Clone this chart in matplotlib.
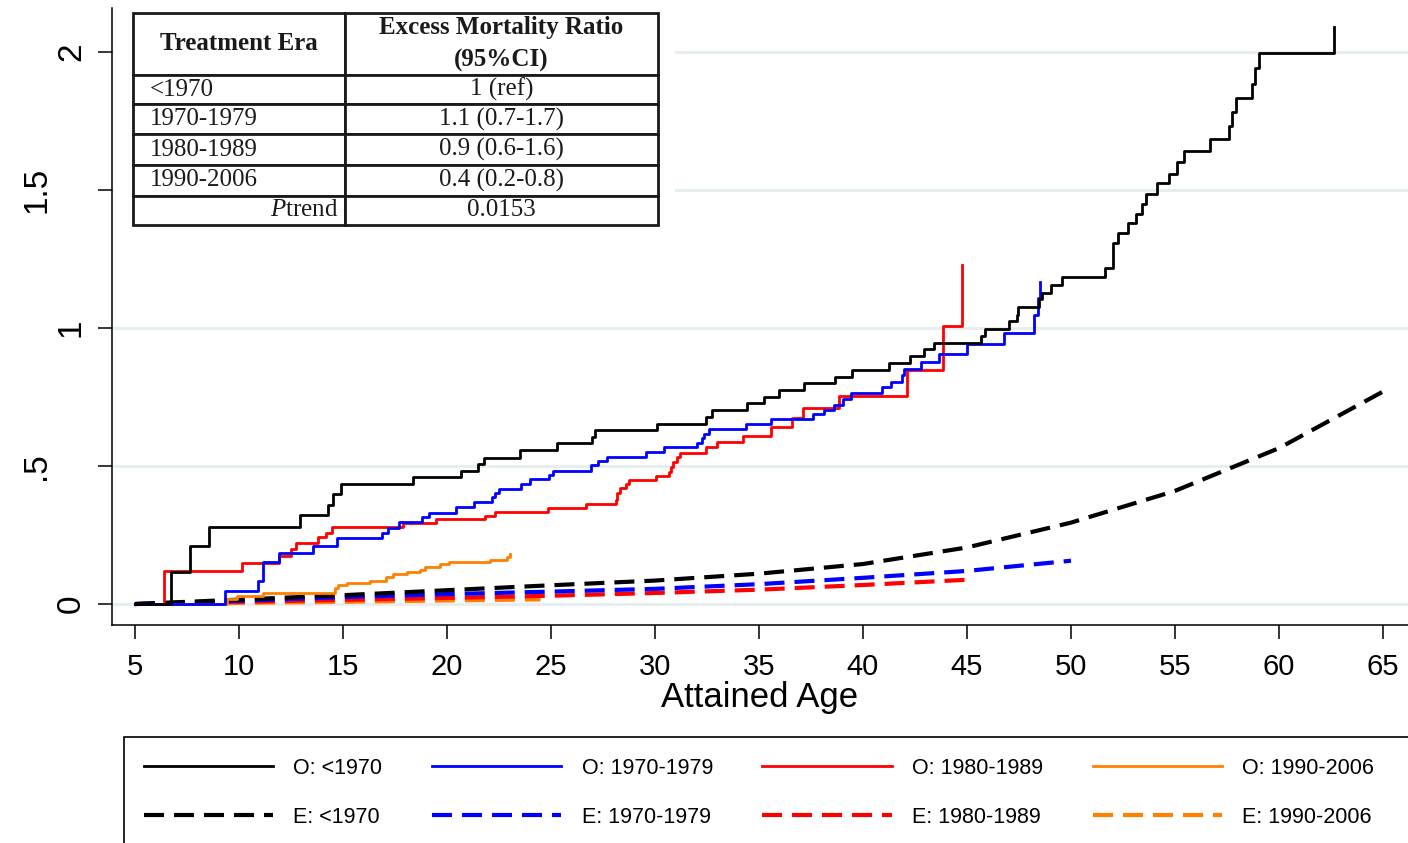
import matplotlib
matplotlib.use("Agg")
import matplotlib.pyplot as plt
from matplotlib.lines import Line2D
from matplotlib.patches import Rectangle

plt.rcParams['font.family'] = ['Liberation Sans', 'DejaVu Sans']
plt.rcParams['mathtext.fontset'] = 'custom'
plt.rcParams['mathtext.it'] = 'Liberation Serif:italic'
plt.rcParams['mathtext.rm'] = 'Liberation Serif'

# ---------------- data ----------------
# Observed cumulative excess mortality (step functions): event ages and values
obs_pre1970_age = [5.0, 6.76, 7.64, 8.57, 12.93, 14.3, 14.5, 14.9, 18.35, 20.66, 21.5, 21.78,
                   23.5, 25.3, 26.96, 27.1, 30.1, 32.45, 32.72, 34.44, 35.25, 35.98, 37.18,
                   38.65, 39.49, 41.26, 42.26, 42.93, 43.43, 45.67, 45.87, 47.03, 47.42, 47.47,
                   48.48, 48.59, 49.02, 49.55, 51.63, 52.0, 52.28, 52.76, 53.11, 53.43, 53.61,
                   54.15, 54.73, 55.11, 55.43, 56.68, 57.6, 57.72, 57.93, 58.72, 58.85, 59.05,
                   62.64]
obs_pre1970_val = [0.0, 0.117, 0.21, 0.28, 0.322, 0.359, 0.397, 0.434, 0.459, 0.483, 0.507, 0.530,
                   0.557, 0.582, 0.606, 0.630, 0.652, 0.676, 0.703, 0.727, 0.751, 0.775, 0.802,
                   0.824, 0.848, 0.872, 0.899, 0.923, 0.947, 0.971, 0.996, 1.025, 1.048, 1.077,
                   1.105, 1.128, 1.156, 1.186, 1.219, 1.310, 1.345, 1.382, 1.413, 1.448, 1.486,
                   1.524, 1.560, 1.603, 1.641, 1.687, 1.733, 1.784, 1.834, 1.886, 1.941, 1.998,
                   2.092]

obs_1970s_age = [5.0, 9.34, 10.93, 11.14, 11.94, 13.57, 14.73, 16.86, 17.15, 17.69, 18.81, 19.15,
                 20.46, 21.31, 22.15, 22.31, 22.52, 23.56, 23.99, 24.92, 25.11, 26.92, 27.27,
                 27.71, 29.55, 30.45, 32.03, 32.27, 32.36, 32.6, 34.36, 35.56, 37.58, 38.13,
                 38.62, 39.05, 39.42, 40.93, 41.33, 41.86, 41.97, 42.77, 43.67, 45.01, 46.78,
                 48.24, 48.4, 48.51]
obs_1970s_val = [0.0, 0.048, 0.083, 0.153, 0.184, 0.210, 0.238, 0.256, 0.277, 0.298, 0.316, 0.331,
                 0.350, 0.371, 0.389, 0.403, 0.416, 0.435, 0.452, 0.467, 0.483, 0.504, 0.518,
                 0.534, 0.552, 0.568, 0.582, 0.600, 0.616, 0.634, 0.651, 0.669, 0.687, 0.703,
                 0.721, 0.742, 0.763, 0.785, 0.806, 0.830, 0.850, 0.878, 0.906, 0.942, 0.984,
                 1.047, 1.108, 1.168]

obs_1980s_age = [5.0, 6.41, 10.13, 11.94, 12.5, 12.74, 13.81, 14.21, 14.49, 17.9, 19.47, 21.83,
                 22.31, 24.84, 26.68, 28.11, 28.19, 28.32, 28.59, 28.77, 30.03, 30.67, 30.76,
                 30.88, 31.04, 31.2, 32.44, 32.96, 34.25, 35.56, 36.6, 37.13, 38.86, 42.1,
                 43.83, 44.78]
obs_1980s_val = [0.0, 0.121, 0.150, 0.174, 0.198, 0.220, 0.242, 0.258, 0.280, 0.292, 0.307, 0.319,
                 0.332, 0.347, 0.361, 0.377, 0.403, 0.419, 0.435, 0.449, 0.465, 0.479, 0.497,
                 0.516, 0.534, 0.548, 0.568, 0.588, 0.610, 0.640, 0.673, 0.709, 0.754, 0.848,
                 1.007, 1.228]

obs_1990s_age = [5.0, 9.41, 9.89, 11.17, 14.62, 14.78, 15.18, 16.3, 17.05, 17.42, 18.09, 18.7,
                 18.94, 19.66, 20.11, 22.07, 22.87, 23.03]
obs_1990s_val = [0.0, 0.017, 0.029, 0.039, 0.057, 0.069, 0.077, 0.085, 0.097, 0.109, 0.115, 0.123,
                 0.133, 0.144, 0.151, 0.159, 0.171, 0.181]

# Expected cumulative mortality (smooth curves), read at 5-year ages
exp_pre1970_age = [5, 10, 15, 20, 25, 30, 35, 40, 45, 50, 55, 60, 65]
exp_pre1970_val = [0.0, 0.016, 0.032, 0.050, 0.068, 0.085, 0.110, 0.145, 0.205, 0.295, 0.41, 0.565, 0.77]

exp_1970s_age = [5, 10, 15, 20, 25, 30, 35, 40, 45, 50]
exp_1970s_val = [0.0, 0.012, 0.025, 0.036, 0.045, 0.055, 0.072, 0.095, 0.12, 0.157]

exp_1980s_age = [5, 10, 15, 20, 25, 30, 35, 40, 45]
exp_1980s_val = [0.0, 0.008, 0.015, 0.022, 0.030, 0.040, 0.052, 0.069, 0.088]

exp_1990s_age = [5, 10, 15, 20, 24.5]
exp_1990s_val = [0.0, 0.004, 0.008, 0.013, 0.017]

x_ticks = [5, 10, 15, 20, 25, 30, 35, 40, 45, 50, 55, 60, 65]
y_ticks = [0, 0.5, 1, 1.5, 2]
y_tick_labels = ["0", ".5", "1", "1.5", "2"]

eras = ["<1970", "1970-1979", "1980-1989", "1990-2006"]
colors = ["black", "#0000ff", "#ff0000", "#ff7f00"]

table_rows = [["<1970", "1 (ref)"],
              ["1970-1979", "1.1 (0.7-1.7)"],
              ["1980-1989", "0.9 (0.6-1.6)"],
              ["1990-2006", "0.4 (0.2-0.8)"],
              ["$P$trend", "0.0153"]]
table_header = ["Treatment Era", "Excess Mortality Ratio\n(95%CI)"]

# ---------------- figure ----------------
W, H = 1408, 843
fig = plt.figure(figsize=(W / 100, H / 100), dpi=100)
ax = fig.add_axes([112 / W, 1 - 625 / H, (1408 - 112) / W, (625 - 8) / H])

ax.set_xlim(3.9, 66.2)
ax.set_ylim(-0.076, 2.16)

for s in ["top", "right"]:
    ax.spines[s].set_visible(False)
for s in ["left", "bottom"]:
    ax.spines[s].set_linewidth(1.1)
    ax.spines[s].set_zorder(8)

ax.set_yticks(y_ticks)
ax.yaxis.grid(True, color="#e6eef0", linewidth=2.2)
ax.set_axisbelow(True)
ax.set_yticklabels(y_tick_labels, rotation=90, va="center", fontsize=24)
ax.set_xticks(x_ticks)
ax.set_xticklabels([str(t) for t in x_ticks], fontsize=21)
ax.tick_params(axis="both", direction="out", length=10, width=1.1)
ax.tick_params(axis="x", pad=10)
# staggered y tick labels (alternate positions)
for i, tk in enumerate(ax.yaxis.get_major_ticks()):
    tk.set_pad(33 if i % 2 == 1 else 8)
ax.set_xlabel("Attained Age", fontsize=25, labelpad=0)

obs = [(obs_pre1970_age, obs_pre1970_val), (obs_1970s_age, obs_1970s_val),
       (obs_1980s_age, obs_1980s_val), (obs_1990s_age, obs_1990s_val)]
exp = [(exp_pre1970_age, exp_pre1970_val), (exp_1970s_age, exp_1970s_val),
       (exp_1980s_age, exp_1980s_val), (exp_1990s_age, exp_1990s_val)]

dash = (4.8, 2.4)
for (a, v), c in reversed(list(zip(exp, colors))):
    ax.plot(a, v, color=c, lw=3.0, dashes=dash, zorder=3)
for (a, v), c in reversed(list(zip(obs, colors))):
    ax.step(a, v, where="post", color=c, lw=2.0, zorder=4)

# ---- inset table ----
ax.add_patch(Rectangle((2 / 1296, 1 - (240 - 8) / 617), (675 - 114) / 1296, (240 - 8) / 617,
                       transform=ax.transAxes, facecolor="white", edgecolor="none", zorder=5))
tbl = ax.table(cellText=table_rows, colLabels=table_header,
               bbox=[(133 - 112) / 1296, 1 - (225 - 8) / 617, (658 - 133) / 1296, (225 - 13) / 617],
               colWidths=[212, 313], zorder=6)
tbl.auto_set_font_size(False)
row_h = [62, 29, 30, 31, 31, 29]
for (r, c), cell in tbl.get_celld().items():
    cell.set_height(row_h[r])
    cell.set_linewidth(2.0)
    cell.set_edgecolor("#1a1a1a")
    t = cell.get_text()
    t.set_fontfamily("Liberation Serif")
    t.set_fontsize(18)
    t.set_color("#1a1a1a")
    if r == 0:
        t.set_fontweight("bold")
        t.set_ha("center")
        t.set_linespacing(1.55)
    elif c == 0:
        if r == 5:
            t.set_ha("right")
            cell.PAD = 0.03
        else:
            t.set_ha("left")
            cell.PAD = 0.08
    else:
        t.set_ha("center")

# ---- legend ----
fig.add_artist(Rectangle((124 / W, -0.2), 1.0, 0.2 + (843 - 737) / H, transform=fig.transFigure,
                         facecolor="none", edgecolor="black", linewidth=1.2, clip_on=False))
handles, labels = [], []
for era, c in zip(eras, colors):
    handles.append(Line2D([], [], color=c, lw=2.0))
    labels.append("O: " + era)
    handles.append(Line2D([], [], color=c, lw=3.0, dashes=dash))
    labels.append("E: " + era)
fig.legend(handles, labels, ncol=4, loc="center",
           bbox_to_anchor=(759 / W, 1 - 793 / H), frameon=False, fontsize=15.5,
           handlelength=6.0, handletextpad=0.95, columnspacing=2.3, labelspacing=1.3,
           borderpad=0)

fig.savefig("out.png", dpi=100)
